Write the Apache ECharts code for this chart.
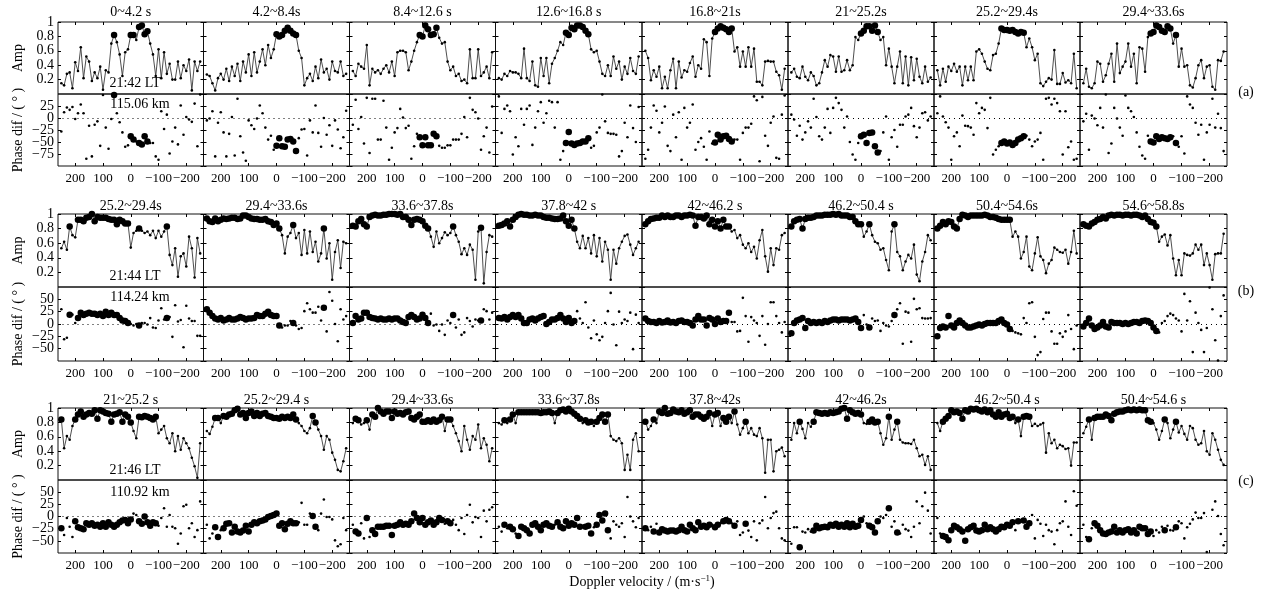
<!DOCTYPE html>
<html><head><meta charset="utf-8">
<script src="https://cdn.jsdelivr.net/npm/echarts/dist/echarts.min.js"></script>
<style>html,body{margin:0;padding:0;background:#fff}#c{width:1264px;height:596px}</style>
</head><body><div id="c"></div>
<script>
// ---------- DATA ----------
const V = [250,240,230,220,210,200,190,180,170,160,150,140,130,120,110,100,90,80,70,60,50,40,30,20,10,0,-10,-20,-30,-40,-50,-60,-70,-80,-90,-100,-110,-120,-130,-140,-150,-160,-170,-180,-190,-200,-210,-220,-230,-240,-250];
const XTICKS = [200,100,0,-100,-200];
const titlesA = ['0~4.2 s','4.2~8.4s','8.4~12.6 s','12.6~16.8 s','16.8~21s','21~25.2s','25.2~29.4s','29.4~33.6s'];
const titlesB = ['25.2~29.4s','29.4~33.6s','33.6~37.8s','37.8~42 s','42~46.2 s','46.2~50.4 s','50.4~54.6s','54.6~58.8s'];
const titlesC = ['21~25.2 s','25.2~29.4 s','29.4~33.6s','33.6~37.8s','37.8~42s','42~46.2s','46.2~50.4 s','50.4~54.6 s'];

const aA1 = [0.15,0.12,0.28,0.30,0.08,0.44,0.32,0.65,0.22,0.52, 0.45,0.18,0.30,0.22,0.38,0.06,0.33,0.30,0.70,0.82, 0.72,0.55,0.25,0.58,0.62,0.82,0.82,0.75,0.93,0.95, 0.83,0.87,0.70,0.55,0.25,0.62,0.22,0.58,0.28,0.42, 0.20,0.20,0.45,0.22,0.40,0.32,0.48,0.05,0.45,0.32, 0.45];
const pA1 = [-28,12,22,17,23,-2,10,28,10,-85, -16,-80,-14,-7,-58,48,-20,-64,-2,48, 10,-9,-30,-60,-57,-38,-45,-49,-52,-55, -38,-49,-52,-52,-80,-87,14,-23,7,-74, -49,-20,-55,26,-35,2,-3,-8,30,-59, 49];
const aA2 = [0.27,0.25,0.15,0.05,0.22,0.28,0.20,0.35,0.18,0.38, 0.25,0.42,0.18,0.45,0.30,0.55,0.25,0.58,0.30,0.45, 0.62,0.40,0.68,0.50,0.62,0.83,0.80,0.82,0.88,0.92, 0.88,0.84,0.82,0.60,0.50,0.12,0.22,0.28,0.18,0.38, 0.22,0.48,0.30,0.35,0.20,0.45,0.32,0.30,0.45,0.25, 0.28];
const pA2 = [-5,-1,14,-80,-10,12,-30,-80,-33,2, -78,40,-38,-72,-89,-5,-15,-23,-1,26, 10,-20,-45,-37,-66,-58,-42,-59,-60,-45, -44,-49,-69,-42,-24,-23,-78,-5,-30,26, -31,-60,0,-35,-15,-58,-5,-24,-63,-40, 15];
const aA3 = [0.32,0.25,0.42,0.38,0.35,0.68,0.12,0.35,0.30,0.33, 0.28,0.35,0.40,0.30,0.45,0.25,0.58,0.60,0.60,0.58, 0.33,0.45,0.60,0.72,0.82,0.80,0.95,0.90,0.82,0.83, 0.92,0.78,0.70,0.72,0.45,0.33,0.38,0.25,0.28,0.18, 0.20,0.15,0.62,0.22,0.22,0.62,0.25,0.30,0.38,0.22, 0.58];
const pA3 = [-14,38,-23,2,-53,42,-73,40,40,-45, -45,36,-20,-87,-62,-30,-21,19,1,-21, -16,-85,-59,-33,-40,-57,-40,-57,-57,-33, -38,-58,-62,-62,-57,-57,-45,-45,-45,-33, 2,-40,42,17,12,-1,-66,-38,-20,-72, 24];
const aA4 = [0.22,0.20,0.28,0.25,0.32,0.30,0.30,0.28,0.22,0.63, 0.22,0.18,0.45,0.12,0.10,0.50,0.25,0.50,0.15,0.42, 0.50,0.60,0.72,0.68,0.85,0.82,0.92,0.90,0.95,0.95, 0.93,0.88,0.83,0.62,0.58,0.60,0.45,0.28,0.25,0.40, 0.25,0.52,0.35,0.45,0.20,0.38,0.28,0.50,0.32,0.28, 0.52];
const pA4 = [45,-31,19,26,14,-76,-40,-59,19,-14, 19,26,-56,-20,14,33,-10,10,36,33, -20,33,-87,-69,-52,-29,-53,-56,-53,-52, -49,-49,-42,-62,-58,-30,-20,49,-7,-31, -33,-33,-35,-80,-69,-10,-40,26,-21,-50, 23];
const aA5 = [0.60,0.50,0.19,0.33,0.24,0.38,0.08,0.24,0.08,0.33, 0.49,0.08,0.45,0.23,0.33,0.31,0.43,0.52,0.24,0.40, 0.35,0.76,0.72,0.25,0.77,0.86,0.91,0.94,0.92,0.90, 0.86,0.91,0.59,0.65,0.38,0.59,0.38,0.65,0.38,0.63, 0.17,0.17,0.12,0.45,0.46,0.45,0.45,0.31,0.26,0.06, 0.35];
const pA5 = [-85,-66,-20,26,15,-30,-10,24,-58,-69, 7,-40,12,-87,21,-20,-10,28,-66,-50, -42,-60,-87,-28,-53,-51,-35,-45,-38,-37, -44,-49,-45,-45,-87,-31,-20,-20,-12,45, 37,-90,44,-37,-58,-10,3,-83,-85,7, 47];
const aA6 = [0.30,0.35,0.24,0.22,0.38,0.24,0.19,0.30,0.25,0.12, 0.15,0.30,0.47,0.38,0.54,0.52,0.31,0.52,0.31,0.33, 0.47,0.33,0.40,0.79,0.75,0.84,0.88,0.94,0.94,0.88, 0.95,0.86,0.75,0.79,0.40,0.63,0.38,0.15,0.38,0.59, 0.15,0.52,0.12,0.51,0.19,0.49,0.24,0.15,0.38,0.17, 0.23];
const pA6 = [7,-3,-37,-16,-45,-30,-7,-20,40,2, -38,-45,-20,19,-31,21,42,31,17,-20, 3,-50,-76,-87,-52,-38,-35,-52,-31,-30, -59,-72,-69,-30,3,-87,-40,-25,-60,-14, -14,3,7,21,-17,-40,-20,10,12,-5, 3];
const aA7 = [0.33,0.12,0.35,0.17,0.38,0.32,0.42,0.31,0.38,0.12, 0.38,0.19,0.38,0.19,0.59,0.62,0.56,0.45,0.35,0.33, 0.54,0.56,0.70,0.91,0.89,0.89,0.88,0.89,0.86,0.84, 0.86,0.85,0.65,0.77,0.65,0.47,0.56,0.15,0.11,0.17, 0.22,0.20,0.61,0.14,0.14,0.29,0.16,0.19,0.15,0.56, 0.08];
const pA7 = [10,45,3,-9,-20,-87,-38,-30,-59,5, -16,-17,-20,-35,31,10,21,17,-21,42, -76,-66,-59,-52,-49,-53,-51,-56,-52,-45, -42,-38,-37,-45,-59,-49,-45,-31,-87,40, 42,28,40,31,14,-76,14,-61,-49,-87, -85];
const aA8 = [0.15,0.35,0.10,0.08,0.15,0.45,0.42,0.17,0.26,0.42, 0.56,0.17,0.70,0.29,0.38,0.45,0.70,0.38,0.56,0.15, 0.65,0.63,0.31,0.79,0.84,0.86,0.95,0.93,0.88,0.86, 0.94,0.91,0.70,0.82,0.38,0.63,0.38,0.40,0.12,0.09, 0.22,0.40,0.47,0.22,0.38,0.40,0.10,0.06,0.47,0.46, 0.59];
const pA8 = [-7,9,-66,5,-1,-15,21,-20,49,-73, -53,21,-1,-20,-37,47,21,14,2,-30, -60,-78,-85,-37,-49,-51,-38,-44,-40,-42, -44,-40,-38,-52,-60,-38,-74,45,28,21, -10,-35,-14,-87,-30,-14,40,-20,9,-21, -69];

const aB1 = [0.53,0.62,0.51,0.83,0.71,0.68,0.92,0.92,0.90,0.95, 0.96,1.00,0.90,0.96,0.95,0.95,0.95,0.93,0.92,0.92, 0.86,0.92,0.90,0.87,0.87,0.54,0.74,0.77,0.80,0.77, 0.74,0.76,0.71,0.77,0.67,0.77,0.69,0.76,0.83,0.44, 0.30,0.53,0.14,0.42,0.46,0.28,0.69,0.53,0.13,0.67, 0.46];
const pB1 = [30,-31,-28,19,19,2,12,23,18,21, 23,21,21,18,21,16,25,18,23,18, 18,12,7,6,2,0,-3,0,-3,2, 2,-1,12,-7,-8,7,32,9,12,14, -26,38,5,8,-47,37,11,6,6,-24, -24];
const aB2 = [0.94,0.90,0.89,0.94,0.90,0.92,0.94,0.93,0.94,0.95, 0.95,0.93,0.94,0.98,0.98,0.96,0.94,0.93,0.93,0.92, 0.92,0.93,0.90,0.89,0.85,0.87,0.80,0.71,0.46,0.69, 0.74,0.85,0.67,0.74,0.44,0.78,0.46,0.76,0.48,0.62, 0.35,0.46,0.80,0.39,0.60,0.10,0.48,0.64,0.26,0.62, 0.60];
const pB2 = [30,23,16,11,9,12,7,9,12,9, 9,11,14,12,9,11,11,12,18,16, 16,21,25,18,16,16,-3,-7,-3,-3, 6,2,-3,-10,-8,26,42,30,23,23, 35,7,33,-15,65,47,0,-35,30,9, 16];
const aB3 = [0.84,0.83,0.90,0.93,0.86,0.83,0.96,0.98,0.99,0.98, 0.98,0.99,0.99,1.00,1.00,1.00,0.99,1.00,0.96,0.96, 0.92,0.85,0.92,0.93,0.92,0.90,0.84,0.80,0.69,0.55, 0.76,0.60,0.67,0.75,0.71,0.74,0.83,0.71,0.62,0.45, 0.53,0.44,0.58,0.51,0.10,0.76,0.81,0.05,0.48,0.71, 0.69];
const pB3 = [2,16,9,11,23,23,14,12,11,9, 11,9,9,11,9,11,11,7,4,2, 14,18,14,9,11,19,12,2,21,-3, -1,-14,-1,-22,7,2,18,-7,9,-22, -17,12,6,-5,9,7,7,30,26,9, 23];
const aB4 = [0.84,0.85,0.87,0.90,0.83,0.92,0.96,0.99,1.00,0.99, 0.99,0.98,0.98,0.99,0.98,0.98,0.96,0.95,0.95,0.94, 0.93,0.93,0.94,0.98,0.90,0.84,0.92,0.80,0.62,0.53, 0.70,0.53,0.67,0.46,0.71,0.42,0.67,0.35,0.62,0.51, 0.10,0.51,0.32,0.53,0.62,0.70,0.72,0.58,0.44,0.53, 0.62];
const pB4 = [12,11,14,9,14,18,14,18,11,2, 2,9,11,7,11,14,16,0,4,9, 9,12,18,11,4,12,2,6,26,11, 2,44,-7,-29,7,-21,-33,-26,2,26, 63,-1,-43,25,2,9,6,23,-51,19, 2];
const aB5 = [0.86,0.90,0.93,0.94,0.95,0.95,0.98,0.96,0.98,0.96, 0.96,0.98,0.98,0.96,0.98,0.98,0.99,0.98,0.84,0.96, 0.96,0.94,0.98,0.86,0.92,0.83,0.90,0.80,0.92,0.83, 0.83,0.76,0.78,0.67,0.71,0.58,0.53,0.60,0.48,0.55, 0.39,0.64,0.78,0.42,0.21,0.53,0.30,0.53,0.51,0.71, 0.74];
const pB5 = [11,6,4,4,2,6,3,4,7,3, 4,2,6,7,4,4,2,-3,9,16, 9,9,-3,12,9,0,11,4,6,6, 23,4,4,-15,-14,53,16,-36,14,7, 2,-24,16,-42,0,44,44,16,2,-17, 4];
const aB6 = [0.83,0.90,0.92,0.93,0.80,0.93,0.95,0.95,0.96,0.98, 0.98,0.98,0.99,0.99,0.99,1.00,0.99,1.00,0.98,0.98, 0.98,0.96,0.96,0.90,0.86,0.86,0.69,0.76,0.86,0.71, 0.62,0.60,0.51,0.53,0.37,0.23,0.76,0.86,0.48,0.42, 0.23,0.35,0.44,0.39,0.58,0.17,0.08,0.35,0.48,0.71, 0.64];
const pB6 = [-19,2,7,9,12,-8,6,2,4,2, 4,2,6,4,7,9,9,7,9,9, 9,7,9,11,4,-8,18,-1,-7,11, 6,7,-14,2,-3,-5,6,18,30,42, -40,25,23,-36,51,30,32,12,11,11, 12];
const aB7 = [0.80,0.84,0.89,0.86,0.90,0.89,0.83,0.80,0.93,0.99, 0.98,0.96,0.98,0.98,0.98,0.98,0.98,0.99,0.98,0.96, 0.96,0.95,0.93,0.92,0.92,0.92,0.92,0.69,0.76,0.69, 0.39,0.48,0.69,0.28,0.23,0.46,0.68,0.42,0.37,0.19, 0.32,0.37,0.54,0.51,0.48,0.47,0.51,0.32,0.48,0.77, 0.46];
const pB7 = [-25,-8,-5,-7,16,-3,-7,2,7,2, -3,-7,-7,-5,-3,-1,-3,0,2,2, 2,2,6,9,2,-1,-10,-14,-17,-19, -21,12,2,42,44,-26,-63,-57,10,23, 23,-15,-40,-40,-19,-26,-15,18,-10,-51, -3];
const aB8 = [0.86,0.84,0.83,0.87,0.89,0.92,0.93,0.96,0.94,0.98, 0.99,0.98,0.99,0.99,0.98,0.99,0.99,0.98,0.99,0.99, 0.98,0.96,0.98,0.93,0.89,0.88,0.83,0.62,0.69,0.72, 0.57,0.71,0.39,0.16,0.37,0.16,0.46,0.44,0.43,0.46, 0.58,0.51,0.58,0.30,0.46,0.30,0.10,0.45,0.46,0.46, 0.73];
const pB8 = [-5,2,11,-3,-10,-7,-3,4,-5,-7, 4,2,2,2,0,2,0,2,4,4, 2,6,7,6,2,-7,-14,-17,2,6, 16,21,18,11,7,-15,61,7,46,-57, 23,2,-12,-57,-8,74,30,-33,-74,16, 58];

const aC1 = [0.84,0.44,0.61,0.56,0.75,0.84,0.91,0.95,0.88,0.91, 0.93,0.92,0.97,0.85,0.97,0.95,0.93,0.92,0.81,0.91, 0.92,0.94,0.81,0.91,0.88,0.80,0.68,0.58,0.88,0.87, 0.89,0.88,0.86,0.84,0.88,0.65,0.70,0.75,0.58,0.51, 0.65,0.40,0.61,0.42,0.58,0.51,0.44,0.31,0.19,0.03, 0.51];
const pC1 = [-24,-38,-3,-21,-42,-10,-22,-24,-26,-14, -17,-14,-19,-17,-21,-14,-21,-12,-17,-21, -17,-12,-8,-7,-14,-6,6,3,-10,-15, 0,-12,-19,-12,-14,-19,-3,17,-21,3, -21,-24,-56,-35,21,24,-24,-14,-42,-28, 31];
const aC2 = [0.68,0.64,0.74,0.86,0.86,0.79,0.89,0.88,0.91,0.92, 0.97,0.99,0.91,0.93,0.86,0.93,0.95,0.89,0.93,0.89, 0.92,0.93,0.89,0.88,0.86,0.86,0.85,0.88,0.86,0.88, 0.86,0.91,0.84,0.79,0.75,0.68,0.65,0.72,0.89,0.80, 0.70,0.61,0.42,0.61,0.56,0.38,0.28,0.14,0.12,0.26, 0.44];
const pC2 = [-17,-45,-35,-22,-42,-28,-24,-15,-14,-33, -21,-31,-33,-29,-19,-31,-17,-12,-14,-10, -8,-6,-1,1,3,6,-19,-14,-26,-15, -10,-14,-14,-12,28,-17,-17,6,1,-21, -28,6,35,-1,-1,-6,-49,-61,-57,-3, -28];
const aC3 = [0.79,0.85,0.83,0.77,0.79,0.83,0.70,0.91,0.88,1.00, 0.95,0.92,0.95,0.95,0.86,0.95,0.92,0.93,0.91,0.94, 0.95,0.86,0.84,0.88,0.91,0.81,0.81,0.83,0.81,0.84, 0.81,0.83,0.88,0.68,0.84,0.84,0.75,0.65,0.54,0.40, 0.75,0.56,0.42,0.61,0.56,0.77,0.44,0.58,0.49,0.26, 0.44];
const pC3 = [-17,-31,-35,-14,-45,-3,-42,-28,-36,-21, -21,-21,-19,-19,-38,-19,-17,-12,-17,-15, -17,-10,6,-3,-12,-3,-17,-12,-8,-17, -12,-3,-7,-15,-10,-14,-7,-17,-28,-3, -36,3,24,-12,-1,-3,-42,12,-10,14, 19];
const aC4 = [0.79,0.77,0.83,0.79,0.84,0.91,0.79,0.94,0.94,0.94, 0.94,0.94,0.94,0.94,0.94,0.93,0.94,0.94,0.95,0.93, 0.79,0.93,0.97,0.98,0.95,0.99,0.95,0.92,0.89,0.85, 0.79,0.83,0.80,0.81,0.75,0.81,0.86,0.91,0.81,0.91, 0.61,0.56,0.54,0.58,0.51,0.14,0.35,0.14,0.56,0.65, 0.40];
const pC4 = [-21,-31,-17,-24,-21,-26,-35,-40,-21,-24, -28,-35,-17,-14,-21,-28,-17,-14,-19,-21, -17,-12,-21,-24,-10,-19,-14,-17,-3,-21, -19,-21,-19,-35,-22,-17,3,-8,6,-28, -45,-10,-17,-21,-14,-42,40,0,-10,-22, -3];
const aC5 = [0.81,0.70,0.75,0.84,0.79,0.95,0.93,1.00,0.92,0.93, 0.98,0.95,0.94,0.97,0.92,0.94,0.97,0.88,0.91,0.91, 0.88,0.85,0.88,0.93,0.75,0.91,0.93,0.75,0.86,0.81, 0.88,0.79,0.95,0.77,0.63,0.72,0.81,0.65,0.72,0.63, 0.61,0.72,0.58,0.10,0.56,0.56,0.12,0.40,0.42,0.45, 0.33];
const pC5 = [-24,-28,-21,-31,-15,-33,-26,-29,-31,-29, -29,-31,-28,-21,-28,-31,-17,-24,-28,-12, -21,-19,-22,-17,-17,-22,-17,-14,-10,-7, -10,-14,-19,-10,-38,-33,-15,-29,-42,-10, -49,-14,-8,40,-24,-3,7,10,-24,-45, -49];
const aC6 = [0.56,0.79,0.65,0.81,0.71,0.58,0.79,0.74,0.81,0.94, 0.93,0.92,0.93,0.92,0.94,0.93,0.94,0.95,0.99,1.00, 0.85,0.97,0.94,0.92,0.93,0.91,0.79,0.78,0.81,0.84, 0.80,0.81,0.65,0.49,0.58,0.88,0.56,0.70,0.81,0.56, 0.52,0.51,0.51,0.50,0.56,0.44,0.33,0.35,0.21,0.33, 0.14];
const pC6 = [-56,-22,-22,-63,-31,-33,-26,-31,-29,-19, -24,-22,-21,-22,-17,-19,-15,-21,-17,-21, -14,-22,-15,-21,-19,-7,0,-14,-19,-22, -33,-10,0,-3,3,17,-21,-10,-33,-35, -17,-26,-29,-42,-21,31,-14,21,49,12, -35];
const aC7 = [0.79,0.68,0.81,0.85,0.89,0.97,0.94,0.95,0.93,0.85, 0.97,0.95,0.99,0.98,0.99,0.97,0.95,0.98,0.94,0.97, 0.91,0.88,0.94,0.88,0.91,0.92,0.86,0.88,0.79,0.84, 0.61,0.88,0.89,0.88,0.75,0.78,0.75,0.77,0.79,0.38, 0.65,0.51,0.56,0.44,0.49,0.47,0.43,0.44,0.20,0.52, 0.52];
const pC7 = [-3,-35,-40,-42,-49,-28,-19,-22,-26,-31, -50,-26,-22,-19,-29,-31,-28,-17,-26,-22, -26,-31,-26,-21,-22,-17,-19,-12,-28,-10, -10,-8,-21,-14,3,-45,-7,-15,-40,-17, -28,-31,-57,-28,-14,-10,31,-21,-38,52, 22];
const aC8 = [0.65,0.74,0.84,0.56,0.86,0.88,0.88,0.88,0.91,0.89, 0.83,0.92,0.94,0.95,0.95,0.97,0.98,0.97,0.98,0.97, 0.98,0.97,0.97,0.83,0.81,0.79,0.70,0.56,0.68,0.84, 0.79,0.58,0.70,0.81,0.66,0.75,0.64,0.56,0.75,0.72, 0.56,0.49,0.51,0.68,0.40,0.35,0.65,0.56,0.42,0.28, 0.21];
const pC8 = [-17,-42,-47,-24,-14,-19,-28,-35,-36,-33, -31,-21,-33,-28,-33,-28,-26,-33,-28,-35, -21,-24,-24,-36,-31,-40,-28,-33,-21,-28, -19,-28,-29,-22,-10,-14,-45,-22,-15,-6, 8,-3,-3,7,-73,-76,14,31,1,-36, -59];

// ---------- LAYOUT / BUILD ----------
const FONT = 'Liberation Serif';
const XR = 262;
const BIG = 0.8;
const colLeft = [58,203.5,349.5,495.5,642,788,934,1080,1227];
const rows = [
  {ampTop:22, ampH:72, phTop:94, phH:72, phMin:-100, phMax:50, amps:[aA1,aA2,aA3,aA4,aA5,aA6,aA7,aA8], phs:[pA1,pA2,pA3,pA4,pA5,pA6,pA7,pA8], titles:titlesA, titleY:12, lt:'21:42 LT', ltY:83, km:'115.06 km', kmY:104, tag:'(a)', tagY:92},
  {ampTop:214, ampH:73, phTop:287, phH:74, phMin:-75, phMax:75, amps:[aB1,aB2,aB3,aB4,aB5,aB6,aB7,aB8], phs:[pB1,pB2,pB3,pB4,pB5,pB6,pB7,pB8], titles:titlesB, titleY:206, lt:'21:44 LT', ltY:276, km:'114.24 km', kmY:297, tag:'(b)', tagY:291},
  {ampTop:408, ampH:72, phTop:480, phH:73, phMin:-75, phMax:75, amps:[aC1,aC2,aC3,aC4,aC5,aC6,aC7,aC8], phs:[pC1,pC2,pC3,pC4,pC5,pC6,pC7,pC8], titles:titlesC, titleY:400, lt:'21:46 LT', ltY:470, km:'110.92 km', kmY:492, tag:'(c)', tagY:481}
];
const minus = v => String(v).replace('-', '\u2212');
const tickStyle = {show:true, inside:true, length:3, lineStyle:{color:'#000', width:1}};
const noLine = {show:false, onZero:false};
const lblStyle = {fontFamily:FONT, fontSize:14, color:'#000'};

const grids=[], xAxes=[], yAxes=[], series=[], graphics=[];
rows.forEach(R => {
  for (let c=0;c<8;c++){
    const left = colLeft[c], w = colLeft[c+1]-colLeft[c];
    // ---- amplitude panel
    let gi = grids.length;
    grids.push({left:left, top:R.ampTop, width:w, height:R.ampH, show:true, borderColor:'#111', borderWidth:1, backgroundColor:'transparent'});
    xAxes.push({gridIndex:gi, type:'value', min:-XR, max:XR, inverse:true, position:'top',
      axisLine:noLine, axisTick:Object.assign({customValues:XTICKS}, tickStyle), axisLabel:{show:false}, splitLine:{show:false}});
    const ya = yAxes.length;
    yAxes.push({gridIndex:gi, type:'value', min:0, max:1, interval:0.2, position:'left',
      axisLine:noLine, axisTick:tickStyle, splitLine:{show:false},
      axisLabel:Object.assign({show:c===0, showMinLabel:false, margin:4, hideOverlap:false}, lblStyle),
      name:c===0?'Amp':'', nameLocation:'middle', nameGap:33, nameRotate:90, nameTextStyle:{fontFamily:FONT, fontSize:14, color:'#000'}});
    yAxes.push({gridIndex:gi, type:'value', min:0, max:1, interval:0.2, position:'right',
      axisLine:noLine, axisTick:tickStyle, splitLine:{show:false}, axisLabel:{show:false}});
    const amp = R.amps[c];
    series.push({type:'line', xAxisIndex:gi, yAxisIndex:ya, data:V.map((v,i)=>[v, amp[i]]),
      symbol:'circle', showSymbol:true, showAllSymbol:true,
      symbolSize:(val)=> val[1]>=BIG ? 6.5 : 2.6,
      lineStyle:{color:'#3a3a3a', width:0.9}, itemStyle:{color:'#000', opacity:1}, silent:true, animation:false, z:3});
    // ---- phase panel
    gi = grids.length;
    grids.push({left:left, top:R.phTop, width:w, height:R.phH, show:true, borderColor:'#111', borderWidth:1, backgroundColor:'transparent'});
    xAxes.push({gridIndex:gi, type:'value', min:-XR, max:XR, inverse:true, position:'bottom',
      axisLine:noLine, axisTick:Object.assign({customValues:XTICKS}, tickStyle), splitLine:{show:false},
      axisLabel:{customValues:XTICKS, margin:6, formatter:minus, hideOverlap:false, showMinLabel:true, showMaxLabel:true, fontFamily:FONT, fontSize:13, color:'#000'}});
    const yp = yAxes.length;
    yAxes.push({gridIndex:gi, type:'value', min:R.phMin, max:R.phMax, interval:25, position:'left',
      axisLine:noLine, axisTick:tickStyle, splitLine:{show:false},
      axisLabel:Object.assign({show:c===0, showMinLabel:false, showMaxLabel:false, margin:4, formatter:minus, hideOverlap:false}, lblStyle),
      name:c===0?'Phase dif / ( \u00b0 )':'', nameLocation:'middle', nameGap:33, nameRotate:90, nameTextStyle:{fontFamily:FONT, fontSize:14, color:'#000'}});
    yAxes.push({gridIndex:gi, type:'value', min:R.phMin, max:R.phMax, interval:25, position:'right',
      axisLine:noLine, axisTick:tickStyle, splitLine:{show:false}, axisLabel:{show:false}});
    const ph = R.phs[c];
    series.push({type:'scatter', xAxisIndex:gi, yAxisIndex:yp, data:V.map((v,i)=>[v, ph[i]]),
      symbol:'circle', symbolSize:(val, p)=> amp[p.dataIndex]>=BIG ? 6.5 : 2.6,
      itemStyle:{color:'#000', opacity:1}, silent:true, animation:false, z:3,
      markLine:{silent:true, symbol:'none', animation:false, label:{show:false},
        lineStyle:{color:'#000', type:[1,4], width:1}, data:[{yAxis:0}]}});
    graphics.push({type:'text', x:left + w/2, y:R.titleY, style:{text:R.titles[c], font:'14px "'+FONT+'"', fill:'#000', align:'center', verticalAlign:'middle'}});
  }
  graphics.push({type:'text', x:135, y:R.ltY, z:10, style:{text:R.lt, font:'14px "'+FONT+'"', fill:'#000', align:'center', verticalAlign:'middle'}});
  graphics.push({type:'text', x:140, y:R.kmY, z:10, style:{text:R.km, font:'14px "'+FONT+'"', fill:'#000', align:'center', verticalAlign:'middle'}});
  graphics.push({type:'text', x:1246, y:R.tagY, style:{text:R.tag, font:'14px "'+FONT+'"', fill:'#000', align:'center', verticalAlign:'middle'}});
});
graphics.push({type:'text', x:642, y:582, style:{text:'Doppler velocity / (m\u00b7s{sup|\u22121})', font:'14px "'+FONT+'"', fill:'#000', align:'center', verticalAlign:'middle',
  rich:{sup:{fontSize:9, fontFamily:FONT, verticalAlign:'top', padding:[0,0,7,0]}}}});

const chart = echarts.init(document.getElementById('c'), null, {renderer:'canvas'});
chart.setOption({animation:false, backgroundColor:'#fff', grid:grids, xAxis:xAxes, yAxis:yAxes, series:series, graphic:graphics});
</script></body></html>
